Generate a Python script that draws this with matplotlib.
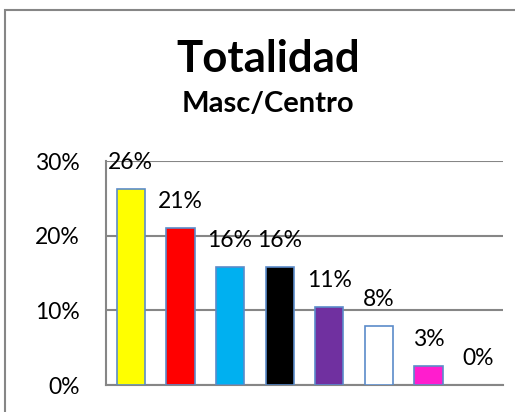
"""Bar chart: Totalidad, Masc/Centro."""

import matplotlib.pyplot as plt
from matplotlib.patches import Rectangle
from matplotlib.ticker import FuncFormatter

plt.rcParams["font.family"] = ["Lato", "DejaVu Sans"]

# chart data
categories = ["A", "B", "C", "D", "E", "F", "G", "H"]
values = [26.3, 21.0, 15.8, 15.8, 10.5, 7.9, 2.6, 0.0]
labels = ["26%", "21%", "16%", "16%", "11%", "8%", "3%", "0%"]
bar_colors = ["#FFFF00", "#FF0000", "#00B0F0", "#000000",
              "#7030A0", "#FFFFFF", "#FF1DCE", "#FFFFFF"]
yticks = [0, 10, 20, 30]

grid_gray = "#868686"

fig = plt.figure(figsize=(5.15, 4.12), dpi=100)

# outer chart border (extends past the right and bottom edges)
fig.patches.append(Rectangle((5 / 515, -0.1), 1.2, (412 - 10) / 412 + 0.1,
                             transform=fig.transFigure, fill=False,
                             edgecolor=grid_gray, linewidth=1.5))

ax = fig.add_axes([106 / 515, 27 / 412, 397 / 515, 224 / 412])

x = range(len(categories))
edge_widths = [1.2 if v > 0 else 0 for v in values]
bars = ax.bar(x, values, width=0.57, color=bar_colors,
              edgecolor="#5B8BC9", linewidth=edge_widths, zorder=3)
for b, v, lab in zip(bars, values, labels):
    ax.annotate(lab, (b.get_x() + b.get_width() / 2, v),
                xytext=(0, 19), textcoords="offset points",
                ha="center", va="center", fontsize=16.5, zorder=4)

ax.set_xlim(-0.5, len(categories) - 0.5)
ax.set_ylim(0, 30)
ax.set_yticks(yticks)
ax.yaxis.set_major_formatter(FuncFormatter(lambda v, _: f"{v:.0f}%"))
ax.set_xticks([])
ax.tick_params(axis="y", length=0, pad=19, labelsize=16.5)
ax.grid(axis="y", color=grid_gray, linewidth=1.5, zorder=0)

for side in ("top", "right"):
    ax.spines[side].set_visible(False)
for side in ("left", "bottom"):
    ax.spines[side].set_color(grid_gray)
    ax.spines[side].set_linewidth(1.5)

fig.text(268 / 515, 1 - 59 / 412, "Totalidad", ha="center", va="center",
         fontsize=31.5, fontweight="bold")
fig.text(268 / 515, 1 - 104 / 412, "Masc/Centro", ha="center", va="center",
         fontsize=21, fontweight="bold")

fig.savefig("out.png", dpi=100)
